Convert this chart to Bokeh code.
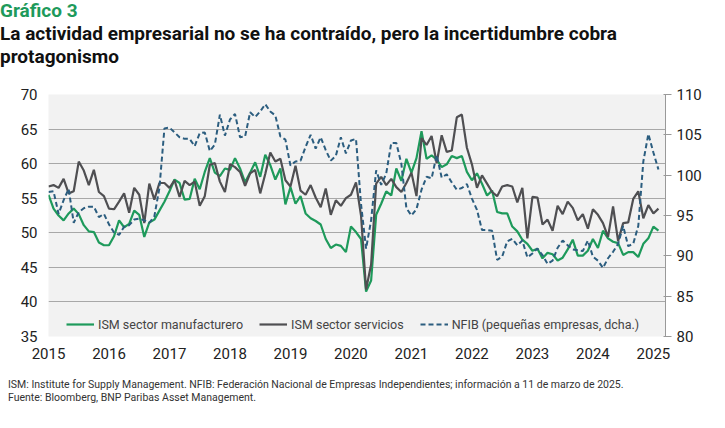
import numpy as np
from bokeh.plotting import figure
from bokeh.models import Range1d, LinearAxis, Div, Legend, LegendItem, FixedTicker
from bokeh.layouts import column
from bokeh.embed import file_html
from bokeh.resources import INLINE

ism_manuf = [55.5,53.5,52.5,51.8,52.8,53.5,52.7,51.1,50.2,50.1,48.6,48.2,
 48.2,49.5,51.8,50.8,51.3,53.2,52.6,49.4,51.5,51.9,53.2,54.5,
 56.0,57.7,57.2,54.8,54.9,57.8,56.3,58.8,60.8,58.7,58.2,59.3,
 59.1,60.8,59.3,57.3,58.7,60.2,58.1,61.3,59.8,57.7,59.3,54.1,
 56.6,54.2,55.3,52.8,52.1,51.7,51.2,49.1,47.8,48.3,48.1,47.2,
 50.9,50.1,49.1,41.5,43.1,52.6,54.2,56.0,55.4,59.3,57.5,60.7,
 58.7,60.8,64.7,60.7,61.2,60.6,59.5,59.9,61.1,60.8,61.1,58.8,
 57.6,58.6,57.1,55.4,56.1,53.0,52.8,52.8,50.9,50.2,49.0,48.4,
 47.4,47.7,46.3,47.1,46.9,46.0,46.4,47.6,49.0,46.7,46.7,47.4,
 49.1,47.8,50.3,49.2,48.7,48.5,46.8,47.2,47.2,46.5,48.4,49.2,
 50.9,50.3]
ism_serv = [56.7,56.9,56.5,57.8,55.7,56.0,60.3,59.0,56.9,59.1,55.9,55.3,
 53.5,53.4,54.5,55.7,52.9,56.5,55.5,51.4,57.1,54.8,57.2,57.2,
 56.5,57.6,55.2,57.5,56.9,57.4,53.9,55.3,59.8,60.1,57.4,55.9,
 59.9,59.5,58.8,56.8,58.6,59.1,55.7,58.5,61.6,60.3,60.7,57.6,
 56.7,59.7,56.1,55.5,56.9,55.1,53.7,56.4,52.6,54.7,53.9,55.0,
 55.5,57.3,52.5,41.8,45.4,57.1,58.1,56.9,57.8,56.6,55.9,57.2,
 58.7,55.3,63.7,62.7,64.0,60.1,64.1,61.7,61.9,66.7,67.1,62.3,
 59.9,56.5,58.3,57.1,55.9,55.3,56.7,56.9,56.7,54.4,56.5,49.2,
 55.2,55.1,51.2,51.9,50.3,53.9,52.7,54.5,53.6,51.8,52.7,50.6,
 53.4,52.6,51.4,49.4,53.8,48.8,51.4,51.5,54.9,56.0,52.1,54.0,
 52.8,53.5]
nfib = [97.9,98.0,95.2,96.9,98.3,94.1,95.4,95.9,96.1,96.1,94.8,95.2,
 93.9,92.9,92.6,93.6,93.8,94.5,94.6,94.4,94.1,94.9,98.4,105.8,
 105.9,105.3,104.7,104.5,104.5,103.6,105.2,105.3,103.0,103.8,107.5,104.9,
 106.9,107.6,104.7,104.8,107.8,107.2,107.9,108.8,107.9,107.4,104.8,104.4,
 101.2,101.7,101.8,103.5,105.0,103.3,104.7,103.1,101.8,102.4,104.7,102.7,
 104.3,104.5,96.4,90.9,94.4,100.6,98.8,100.2,104.0,104.0,101.4,95.9,
 95.0,95.8,98.2,99.8,99.6,102.5,99.7,100.1,99.1,98.2,98.4,98.9,
 97.1,95.7,93.2,93.2,93.1,89.5,89.9,91.8,92.1,91.3,91.9,89.8,
 90.3,90.9,90.1,89.0,89.4,91.0,91.9,91.3,90.8,90.7,90.6,91.9,
 89.9,89.4,88.5,89.7,90.5,91.5,93.7,91.2,91.5,93.7,101.7,105.1,
 102.8,100.7]
years = list(range(2015, 2026))

x = [2015 + i/12 for i in range(len(ism_manuf))]
GREEN = "#1e9a5b"; GREY = "#4f4f52"; BLUE = "#2b5d7f"
FONT = "Roboto"

head = Div(text="""<div style="font-family:'Roboto',sans-serif;line-height:1.2">
<div style="color:#1e9a5b;font-weight:bold;font-size:19px">Gráfico 3</div>
<div style="color:#111;font-weight:bold;font-size:19px">La actividad empresarial no se ha contraído, pero la incertidumbre cobra<br>protagonismo</div></div>""",
 width=709, height=74, margin=(0,0,0,0))

p = figure(width=709, height=290, output_backend="svg", toolbar_location=None,
           x_range=Range1d(2015, 2025.2), y_range=Range1d(35, 70),
           min_border_left=48, min_border_right=44, min_border_top=20, min_border_bottom=28)
p.background_fill_color = "#f2f2f2"
p.border_fill_color = "white"
p.outline_line_color = None
p.extra_y_ranges = {"r": Range1d(80, 110)}
ra = LinearAxis(y_range_name="r", ticker=FixedTicker(ticks=[80, 85, 90, 95, 100, 105, 110]))
p.add_layout(ra, "right")
p.yaxis[0].ticker = FixedTicker(ticks=list(range(35, 71, 5)))
p.xaxis.ticker = FixedTicker(ticks=years)
p.xgrid.grid_line_color = None
p.ygrid.grid_line_color = "#a8a8a8"
for ax in p.axis:
    ax.major_label_text_font_size = "15px"
    ax.major_label_text_color = "#222"
    ax.axis_line_color = "#999"
    ax.major_tick_line_color = "#999"
    ax.minor_tick_line_color = None
    ax.major_label_text_font = FONT
p.xaxis.major_tick_line_color = None
p.xaxis.axis_line_color = None
p.yaxis[0].axis_line_color = None
p.yaxis[0].major_tick_line_color = None

r1 = p.line(x, ism_manuf, color=GREEN, line_width=2.2)
r2 = p.line(x, ism_serv, color=GREY, line_width=2.2)
r3 = p.line(x, nfib, color=BLUE, line_width=2, line_dash="5 3", y_range_name="r")
leg = Legend(items=[LegendItem(label="ISM sector manufacturero", renderers=[r1]),
                    LegendItem(label="ISM sector servicios", renderers=[r2]),
                    LegendItem(label="NFIB (pequeñas empresas, dcha.)", renderers=[r3])],
             orientation="horizontal", location=(18, 2), background_fill_alpha=0,
             border_line_color=None, label_text_font_size="12.5px",
             label_text_font=FONT, glyph_width=28, spacing=16, label_standoff=4)
p.add_layout(leg, "center")

foot = Div(text="""<div style="font-family:'Roboto',sans-serif;font-size:10.5px;color:#333;line-height:1.25">
ISM: Institute for Supply Management. NFIB: Federación Nacional de Empresas Independientes; información a 11 de marzo de 2025.<br>
Fuente: Bloomberg, BNP Paribas Asset Management.</div>""", width=709, height=30, margin=(14, 0, 0, 8))

open("out.html", "w").write(file_html(column(head, p, foot, spacing=0), INLINE))
